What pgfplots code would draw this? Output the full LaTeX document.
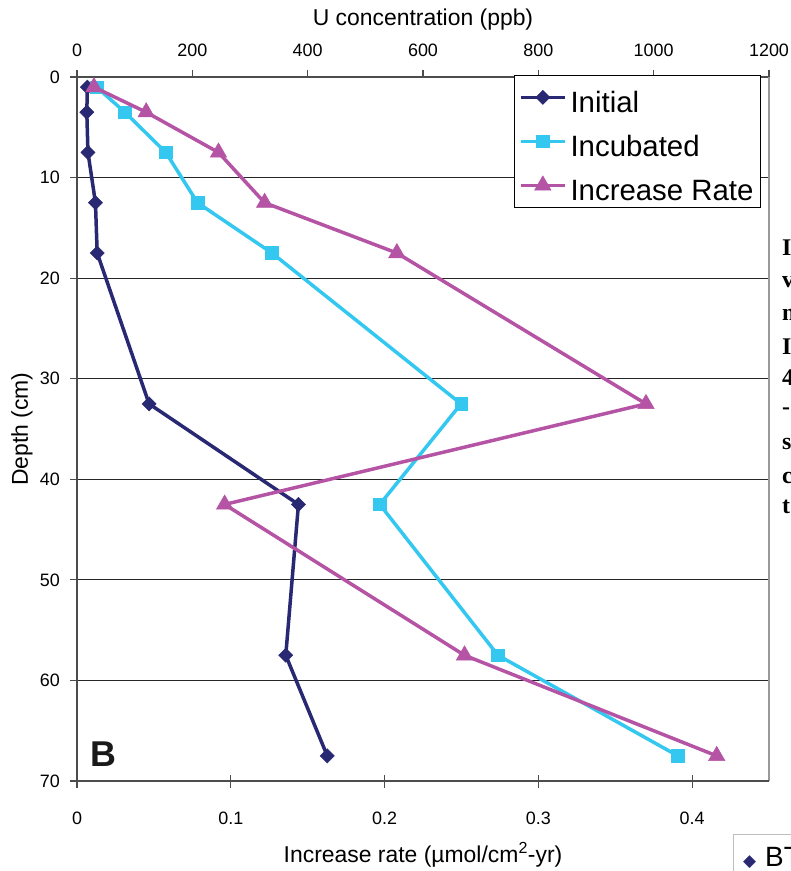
\documentclass[border=0pt]{standalone}
\usepackage{fontspec}
\setmainfont{Liberation Sans}
\newfontfamily\serifb{Liberation Serif}
\newfontfamily\dejavu{DejaVu Sans}
\usepackage{pgfplots}
\pgfplotsset{compat=1.18}
\definecolor{cInit}{RGB}{40,40,115}
\definecolor{cInc}{RGB}{52,200,240}
\definecolor{cRate}{RGB}{181,84,164}

\pgfplotsset{
  initstyle/.style={cInit, line width=3.5bp, mark=square*, mark size=5bp, mark options={rotate=45, solid, line width=0.5bp}},
  incstyle/.style={cInc, line width=3.5bp, mark=square*, mark size=6.3bp, mark options={solid, line width=0.5bp}},
  ratestyle/.style={cRate, line width=3.5bp, mark=triangle*, mark size=9.5bp, mark options={solid, line width=0.5bp}},
  common/.style={
    at={(77bp,90bp)}, anchor=south west,
    scale only axis, width=692bp, height=704bp,
    ymin=0, ymax=70, y dir=reverse,
    axis line style={black!70, line width=1.6bp},
    tick style={black!70, line width=1.2bp},
    tick label style={font=\fontsize{18}{20}\selectfont, inner sep=0pt},
    /pgf/number format/assume math mode=true,
    /pgf/number format/1000 sep={},
    clip=false,
  },
}

\begin{document}
\begin{tikzpicture}
\useasboundingbox (0,0) rectangle (791bp,871bp);

% top axis: U concentration, with depth axis and grid
\begin{axis}[common,
  xmin=0, xmax=1200,
  axis x line*=top, axis y line*=left,
  xtick={0,200,...,1200}, ytick={0,10,...,70},
  tick align=outside, major tick length=7bp,
  ymajorgrids, grid style={black!85, line width=1.2bp},
  xticklabel shift=13bp, yticklabel shift=10bp,
  xlabel={U concentration (ppb)},
  xlabel style={at={(rel axis cs:0.5,1.082)}, anchor=center, font=\fontsize{23}{26}\selectfont},
  ylabel={Depth (cm)},
  ylabel style={at={(rel axis cs:-0.0794,0.5)}, anchor=center, font=\fontsize{23}{26}\selectfont},
]
\addplot[initstyle] coordinates {
  (18,1) (17,3.5) (19,7.5) (32,12.5) (35,17.5) (125,32.5) (384,42.5) (362,57.5) (434,67.5)
};
\addplot[incstyle] coordinates {
  (34,1) (83,3.5) (154,7.5) (209,12.5) (338,17.5) (666,32.5) (525,42.5) (730,57.5) (1042,67.5)
};
\draw[black!40, line width=1.5bp] (rel axis cs:1,0) -- (rel axis cs:1,1);
\end{axis}

% bottom axis: increase rate
\begin{axis}[common,
  xmin=0, xmax=0.45,
  axis x line*=bottom, hide y axis,
  xtick={0,0.1,0.2,0.3,0.4}, xticklabels={0,0.1,0.2,0.3,0.4},
  tick align=center, major tick length=13bp,
  xticklabel shift=24bp,
  xlabel={Increase rate (µmol/cm\textsuperscript{2}-yr)},
  xlabel style={at={(rel axis cs:0.5,-0.105)}, anchor=center, font=\fontsize{23}{26}\selectfont},
  legend style={at={(rel axis cs:0.9885,1.003)}, anchor=north east,
    draw=black, line width=1bp, fill=white, inner sep=5bp,
    font=\fontsize{29.5}{31}\selectfont,
    /tikz/row sep=10bp, /tikz/column sep=2bp,
    nodes={inner sep=2bp, text height=30bp, text depth=0bp}},
  legend cell align=left,
  legend image code/.code={\draw[mark repeat=2,mark phase=2,#1] plot coordinates {(0bp,0bp) (22bp,0bp) (44bp,0bp)};},
]
\addlegendimage{initstyle}
\addlegendimage{incstyle}
\addplot[ratestyle] coordinates {
  (0.011,1) (0.045,3.5) (0.092,7.5) (0.122,12.5) (0.208,17.5) (0.370,32.5) (0.096,42.5) (0.252,57.5) (0.416,67.5)
};
\legend{Initial, Incubated, Increase Rate}
\end{axis}

\node[font=\bfseries\fontsize{36}{36}\selectfont, text=black!90] at (103bp,116.5bp) {B};

\foreach \c/\y in {I/248, v/282, n/315, I/347, 4/378, -/411, s/444, c/478, t/507}
  \node[anchor=west, inner sep=0pt, font=\serifb\bfseries\fontsize{24}{24}\selectfont] at (782bp,871bp-\y bp) {\c};

\draw[black!25, line width=1bp] (733bp,-5bp) rectangle (900bp,36bp);
\node[anchor=west, inner sep=0pt, font=\fontsize{28}{28}\selectfont] at (743bp,13bp)
  {\textcolor{cInit}{\dejavu\fontsize{17}{17}\selectfont ◆}\hspace{9bp}BT};
\end{tikzpicture}
\end{document}
